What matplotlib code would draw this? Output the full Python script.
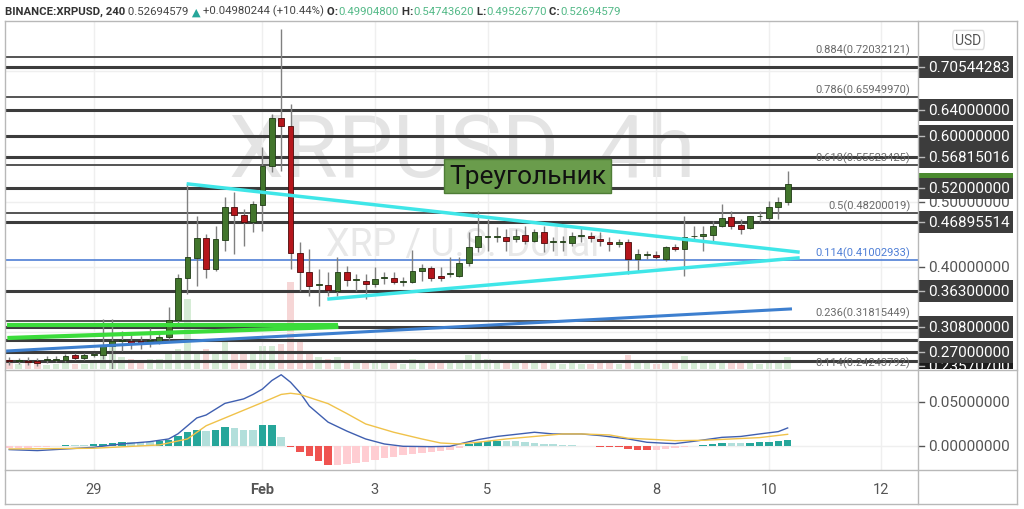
import matplotlib
matplotlib.use('Agg')
import matplotlib.pyplot as plt
import matplotlib.transforms as mtransforms
from matplotlib.patches import Rectangle, FancyBboxPatch
from matplotlib.lines import Line2D

plt.rcParams['font.family'] = ['Roboto', 'DejaVu Sans']

W, H = 1024, 510

# 4h bars, index counted from 1 Feb 00:00
bars = list(range(-27, 57))
opens = [0.2578, 0.2563, 0.2567, 0.2567, 0.2578, 0.2582, 0.2578, 0.2659, 0.2609, 0.2654,
         0.2659, 0.2797, 0.2873, 0.2873, 0.2864, 0.2864, 0.2873, 0.2934, 0.3189, 0.3827,
         0.4138, 0.4439, 0.3969, 0.4417, 0.4922, 0.4795, 0.4693, 0.4948, 0.5549, 0.6274,
         0.6151, 0.4209, 0.3928, 0.3725, 0.3725, 0.3638, 0.3919, 0.3801, 0.3791, 0.3740,
         0.3832, 0.3832, 0.3775, 0.3775, 0.3934, 0.3985, 0.3867, 0.3893, 0.3867, 0.4057,
         0.4301, 0.4454, 0.4454, 0.4454, 0.4428, 0.4489, 0.4402, 0.4540, 0.4378, 0.4378,
         0.4362, 0.4479, 0.4479, 0.4428, 0.4378, 0.4352, 0.4387, 0.4122, 0.4188, 0.4183,
         0.4122, 0.4301, 0.4275, 0.4469, 0.4469, 0.4489, 0.4631, 0.4760, 0.4642, 0.4592,
         0.4775, 0.4745, 0.4913, 0.499048]
highs = [0.2624, 0.2609, 0.2624, 0.2609, 0.2639, 0.2639, 0.2670, 0.2685, 0.2685, 0.2685,
         0.3197, 0.3197, 0.3027, 0.2976, 0.2945, 0.3067, 0.2991, 0.3388, 0.3893, 0.5269,
         0.4785, 0.4505, 0.4631, 0.5066, 0.5147, 0.4887, 0.5014, 0.5830, 0.6339, 0.7639,
         0.6492, 0.4382, 0.4275, 0.3969, 0.3924, 0.4148, 0.4020, 0.3893, 0.3893, 0.4000,
         0.3924, 0.3924, 0.3847, 0.4265, 0.4046, 0.4020, 0.4000, 0.4148, 0.4148, 0.4531,
         0.4861, 0.4734, 0.4607, 0.4581, 0.4581, 0.4631, 0.4581, 0.4631, 0.4454, 0.4479,
         0.4531, 0.4607, 0.4531, 0.4531, 0.4454, 0.4428, 0.4428, 0.4275, 0.4249, 0.4249,
         0.4326, 0.4352, 0.4775, 0.4631, 0.4631, 0.4708, 0.4963, 0.4861, 0.4734, 0.4785,
         0.4861, 0.5014, 0.5066, 0.5474362]
lows = [0.2502, 0.2517, 0.2502, 0.2486, 0.2532, 0.2547, 0.2547, 0.2578, 0.2578, 0.2624,
        0.2593, 0.2440, 0.2720, 0.2746, 0.2746, 0.2777, 0.2823, 0.2884, 0.3128, 0.3587,
        0.3714, 0.3827, 0.3943, 0.4249, 0.4199, 0.4326, 0.4531, 0.4555, 0.5448, 0.5472,
        0.3969, 0.3638, 0.3561, 0.3408, 0.3561, 0.3561, 0.3714, 0.3638, 0.3511, 0.3694,
        0.3740, 0.3740, 0.3714, 0.3755, 0.3791, 0.3791, 0.3791, 0.3847, 0.3847, 0.4020,
        0.4225, 0.4249, 0.4378, 0.4249, 0.4378, 0.4352, 0.4378, 0.4225, 0.4249, 0.4249,
        0.4326, 0.4378, 0.4378, 0.4326, 0.4249, 0.4301, 0.3893, 0.3943, 0.4122, 0.4122,
        0.4096, 0.4249, 0.3867, 0.4402, 0.4249, 0.4402, 0.4607, 0.4581, 0.4505, 0.4581,
        0.4683, 0.4708, 0.4734, 0.4952677]
closes = [0.2563, 0.2570, 0.2543, 0.2532, 0.2586, 0.2593, 0.2644, 0.2609, 0.2654, 0.2662,
          0.2797, 0.2873, 0.2876, 0.2838, 0.2838, 0.2869, 0.2934, 0.3189, 0.3827, 0.4148,
          0.4439, 0.3969, 0.4428, 0.4922, 0.4795, 0.4693, 0.4963, 0.5549, 0.6274, 0.6151,
          0.4209, 0.3924, 0.3714, 0.3732, 0.3648, 0.3919, 0.3806, 0.3809, 0.3740, 0.3817,
          0.3839, 0.3766, 0.3781, 0.3943, 0.3985, 0.3827, 0.3827, 0.3901, 0.4057, 0.4301,
          0.4469, 0.4459, 0.4459, 0.4402, 0.4479, 0.4402, 0.4540, 0.4362, 0.4382, 0.4382,
          0.4479, 0.4485, 0.4439, 0.4393, 0.4352, 0.4387, 0.4122, 0.4199, 0.4194, 0.4157,
          0.4301, 0.4275, 0.4454, 0.4474, 0.4505, 0.4631, 0.4745, 0.4631, 0.4581, 0.4775,
          0.4780, 0.4913, 0.4998, 0.52694579]
volumes = [6, 5, 6, 5, 4, 5, 6, 5, 5, 6,
           22, 25, 12, 10, 9, 10, 10, 15, 20, 70,
           18, 20, 15, 30, 18, 15, 18, 23, 23, 25,
           87, 30, 18, 12, 10, 12, 8, 7, 9, 8,
           6, 6, 5, 10, 6, 7, 6, 6, 8, 14,
           15, 10, 8, 7, 6, 7, 6, 9, 6, 5,
           6, 5, 5, 6, 6, 5, 14, 9, 6, 5,
           7, 6, 13, 7, 6, 8, 8, 7, 6, 7,
           5, 8, 8, 12]

# MACD panel
hist = [-0.0022, -0.0019, -0.0015, -0.0005, -0.0003, 0.0005, 0.0015, 0.0015, 0.0015, 0.0022,
        0.0030, 0.0037, 0.0045, 0.0045, 0.0045, 0.0045, 0.0060, 0.0070, 0.0110, 0.0157,
        0.0187, 0.0175, 0.0187, 0.0213, 0.0205, 0.0183, 0.0183, 0.0239, 0.0242, 0.0100,
        -0.0011, -0.0067, -0.0104, -0.0160, -0.0209, -0.0205, -0.0198, -0.0187, -0.0172, -0.0150,
        -0.0134, -0.0116, -0.0101, -0.0086, -0.0075, -0.0063, -0.0049, -0.0037, -0.0019, 0.0022,
        0.0045, 0.0056, 0.0063, 0.0060, 0.0056, 0.0048, 0.0041, 0.0030, 0.0022, 0.0015,
        0.0015, 0.0007, 0.0004, -0.0004, -0.0007, -0.0011, -0.0030, -0.0037, -0.0045, -0.0045,
        -0.0030, -0.0022, -0.0004, 0.0007, 0.0015, 0.0022, 0.0037, 0.0037, 0.0034, 0.0041,
        0.0045, 0.0052, 0.0060, 0.0075]
macd_x = [-27, -24, -21, -18, -15, -12, -10, -9, -7, -6, -4, -2, -1, 0, 1, 2, 3, 4, 5, 7,
          9, 11, 13, 15, 18, 20, 21, 23, 25, 28, 29, 31, 34, 36, 39, 41, 43, 44, 46, 49,
          51, 53, 55, 56]
macd_v = [-0.0037, -0.0048, -0.0030, -0.0011, 0.0026, 0.0052, 0.0082, 0.0140, 0.0317, 0.0350,
          0.0480, 0.0530, 0.0580, 0.0640, 0.0735, 0.0800, 0.0716, 0.0600, 0.0450, 0.0270,
          0.0170, 0.0082, 0.0026, 0.0000, -0.0004, 0.0000, 0.0026, 0.0075, 0.0110, 0.0145,
          0.0157, 0.0138, 0.0138, 0.0120, 0.0082, 0.0045, 0.0034, 0.0030, 0.0056, 0.0100,
          0.0110, 0.0138, 0.0164, 0.0205]
sig_x = [-27, -18, -11, -8, -6, -3, 0, 2, 3, 4, 7, 9, 11, 14, 17, 19, 21, 23, 26, 29,
         32, 34, 37, 39, 42, 44, 47, 50, 53, 56]
sig_v = [-0.0030, -0.0022, 0.0015, 0.0082, 0.0230, 0.0360, 0.0490, 0.0580, 0.0593, 0.0580,
         0.0477, 0.0366, 0.0250, 0.0157, 0.0082, 0.0037, 0.0026, 0.0045, 0.0082, 0.0110,
         0.0138, 0.0138, 0.0127, 0.0090, 0.0075, 0.0063, 0.0067, 0.0082, 0.0097, 0.0134]

day_ticks = [-18, 0, 12, 24, 42, 54, 66]
day_labels = ['29', 'Feb', '3', '5', '8', '10', '12']

# drawn horizontal levels
levels = [0.70544283, 0.64, 0.60, 0.56815016, 0.52, 0.46895514, 0.363, 0.308, 0.288, 0.27, 0.2567]
level_tags = [0.70544283, 0.64, 0.60, 0.56815016, 0.52, 0.46895514, 0.363, 0.308, 0.27]
fib_names = ['0.884', '0.786', '0.618', '0.5', '0.236', '0.114']
fib_prices = [0.72032121, 0.65949970, 0.55523425, 0.48200019, 0.31815449, 0.24243792]
fib_blue_name, fib_blue_price = '0.114', 0.41002933

tri_up_x, tri_up_y = [-7.9, 57.1], [0.5269, 0.4229]
tri_lo_x, tri_lo_y = [7.1, 57.1], [0.3511, 0.4138]
trend_x, trend_y = [-27.2, 56.3], [0.2716, 0.3358]
green1_x, green1_y = [-27.2, 8.1], [0.3106, 0.3106]
green2_x, green2_y = [-27.2, 8.1], [0.2914, 0.3083]

last, change, change_pct = 0.52694579, 0.04980244, 10.44


def rect(x0, y0, x1, y1):
    return [x0 / W, 1 - y1 / H, (x1 - x0) / W, (y1 - y0) / H]


fig = plt.figure(figsize=(W / 100, H / 100), dpi=100)
ax = fig.add_axes(rect(5, 22, 918, 370))
axm = fig.add_axes(rect(5, 371, 918, 471), sharex=ax)
axr = fig.add_axes(rect(918, 22, 1017, 370))
axrm = fig.add_axes(rect(918, 371, 1017, 471))

ylo, yhi = 0.2440, 0.7761
ax.set_xlim(-27.45, 69.9)
ax.set_ylim(ylo, yhi)
axm.set_ylim(-0.0265, 0.0853)
axr.set_ylim(ylo, yhi)
axrm.set_ylim(-0.0265, 0.0853)
for a in (axr, axrm):
    a.set_xlim(0, 1)

for a in (ax, axm, axr, axrm):
    for s in a.spines.values():
        s.set_visible(False)
    a.tick_params(length=0, labelleft=False, labelbottom=False)
axr.set_xticks([]); axr.set_yticks([])
axrm.set_xticks([]); axrm.set_yticks([])

ax.set_xticks(day_ticks)
ax.set_yticks([0.3, 0.4, 0.5, 0.6, 0.7])
ax.grid(True, color='#efefef', lw=1, zorder=0)
axm.set_yticks([0.0, 0.05])
axm.grid(True, color='#efefef', lw=1, zorder=0)
axm.set_xticks(day_ticks)
axm.set_xticklabels(day_labels)
axm.tick_params(axis='x', labelbottom=True, pad=9, labelsize=10.5, labelcolor='#555555')
axm.get_xticklabels()[1].set_fontweight('bold')

# volume behind everything
axv = ax.twinx()
axv.set_ylim(0, 348)
axv.axis('off')
vcol = ['#d6ecd6' if c >= o else '#f6d6d6' for o, c in zip(opens, closes)]
axv.bar(bars, volumes, width=0.7, color=vcol, zorder=0)
ax.set_zorder(axv.get_zorder() + 1)
ax.patch.set_visible(False)

# watermark
ax.text(0.5005, 0.626, 'XRPUSD, 4h', transform=ax.transAxes, fontsize=63, color='#e4e4e4',
        ha='center', va='center', zorder=0)
ax.text(0.503, 0.359, 'XRP / U.S. Dollar', transform=ax.transAxes, fontsize=27, color='#e8e8e8',
        ha='center', va='center', zorder=0)

bt = mtransforms.blended_transform_factory(ax.transAxes, ax.transData)
# levels and fibs
for p in levels:
    ax.axhline(p, color='#3c3c3c', lw=2.2, zorder=2)
for n, p in zip(fib_names, fib_prices):
    ax.axhline(p, color='#474747', lw=1.3, zorder=2)
    ax.annotate(f'{n}({p:.8f})', xy=(0.9915, p), xycoords=bt, xytext=(0, 1.5),
                textcoords='offset points', ha='right', va='bottom', fontsize=8, color='#6a6a6a', zorder=2)
ax.axhline(fib_blue_price, color='#4f7fd6', lw=1.2, zorder=2)
ax.annotate(f'{fib_blue_name}({fib_blue_price:.8f})', xy=(0.9915, fib_blue_price), xycoords=bt,
            xytext=(0, 1.5), textcoords='offset points', ha='right', va='bottom', fontsize=8,
            color='#4f7fd6', zorder=2)

# candles
up = [c >= o for o, c in zip(opens, closes)]
ax.vlines(bars, lows, highs, color='#808080', lw=1, zorder=3)
body_b = [min(o, c) for o, c in zip(opens, closes)]
body_h = [max(abs(c - o), 0.0012) for o, c in zip(opens, closes)]
ax.bar(bars, body_h, bottom=body_b, width=0.62,
       color=['#42752c' if u else '#b5161c' for u in up],
       edgecolor=['#1e3a14' if u else '#4b0a0a' for u in up], lw=0.6, zorder=4)

# drawings
ax.plot(green1_x, green1_y, color='#3bdc3b', lw=3, zorder=5, solid_capstyle='butt')
ax.plot(green2_x, green2_y, color='#3bdc3b', lw=3, zorder=5, solid_capstyle='butt')
ax.plot(trend_x, trend_y, color='#3d7fcf', lw=2.2, zorder=5)
ax.plot(tri_up_x, tri_up_y, color='#3fe6e8', lw=2.5, zorder=5)
ax.plot(tri_lo_x, tri_lo_y, color='#3fe6e8', lw=2.5, zorder=5)
ax.text(0.5725, 0.555, 'Треугольник', transform=ax.transAxes, fontsize=19, color='#111111',
        ha='center', va='center', zorder=6,
        bbox=dict(boxstyle='square,pad=0.2', facecolor='#6a9c4c', edgecolor='#4e7d36', lw=1))

# MACD
hcol = []
for i, v in enumerate(hist):
    prev = hist[i - 1] if i else v
    if v >= 0:
        hcol.append('#26a69a' if v > prev else '#b2dfdb')
    else:
        hcol.append('#ef5350' if v < prev else '#ffcdd2')
axm.bar(bars, hist, width=0.8, color=hcol, zorder=2)
axm.plot(macd_x, macd_v, color='#3f5fb0', lw=1, zorder=3)
axm.plot(sig_x, sig_v, color='#f0c24a', lw=1, zorder=3)

# right price scale
rt = mtransforms.blended_transform_factory(axr.transAxes, axr.transData)
for p in [0.4, 0.5]:
    axr.text(0.10, p, f'{p:.8f}', transform=rt, color='#555555', fontsize=11, va='center', zorder=1)
    axr.plot([0, 0.06], [p, p], transform=rt, color='#555555', lw=1, zorder=1)
hh = 0.0168
zc = [3]


def tag(p, txt, face, yc=None):
    yc = p if yc is None else yc
    z = zc[0]
    axr.add_patch(Rectangle((0.0, yc - hh), 0.96, 2 * hh, transform=rt, facecolor=face,
                            edgecolor='none', zorder=z))
    if txt:
        axr.text(0.10, yc, txt, transform=rt, color='white', fontsize=11, va='center', zorder=z + 0.5)
        axr.plot([0, 0.06], [yc, yc], transform=rt, color='#bbbbbb', lw=1, zorder=z + 0.5)
    zc[0] += 1


tag(0.23570700, '0.23570700', '#1c1c1c', yc=0.2486)
tag(last, '', '#4b8a30')
for p in level_tags:
    tag(p, f'{p:.8f}', '#3c3c3c')

axr.add_patch(FancyBboxPatch((0.35, 0.918), 0.32, 0.055, boxstyle='round,pad=0.0,rounding_size=0.02',
                             transform=axr.transAxes, facecolor='white', edgecolor='#dddddd', lw=1, zorder=50))
axr.text(0.51, 0.945, 'USD', transform=axr.transAxes, ha='center', va='center', fontsize=10,
         color='#555555', zorder=51)

rtm = mtransforms.blended_transform_factory(axrm.transAxes, axrm.transData)
for p in [0.0, 0.05]:
    axrm.text(0.10, p, f'{p:.8f}', transform=rtm, color='#555555', fontsize=11, va='center')
    axrm.plot([0, 0.06], [p, p], transform=rtm, color='#555555', lw=1)


# frame
def fline(x0, y0, x1, y1, c='#b8b8b8', lw=1):
    fig.add_artist(Line2D([x0 / W, x1 / W], [1 - y0 / H, 1 - y1 / H], color=c, lw=lw))


fline(5, 22, 1017, 22)
fline(5, 505, 1017, 505)
fline(5, 22, 5, 505)
fline(1017, 22, 1017, 505)
fline(918, 22, 918, 505)
fline(5, 371, 1017, 371)
fline(5, 471, 1017, 471)

# header
parts = [('BINANCE:XRPUSD, 240', '#333333', 'bold'),
         (f' {last:.8f}', '#444444', 'normal'),
         (' ▲', '#26a69a', 'normal'),
         (f' +{change:.8f} (+{change_pct:.2f}%)', '#444444', 'normal'),
         (' O:', '#333333', 'bold'), (f'{opens[-1]:.8f}', '#53b987', 'normal'),
         (' H:', '#333333', 'bold'), (f'{highs[-1]:.8f}', '#53b987', 'normal'),
         (' L:', '#333333', 'bold'), (f'{lows[-1]:.8f}', '#53b987', 'normal'),
         (' C:', '#333333', 'bold'), (f'{closes[-1]:.8f}', '#53b987', 'normal')]
t = fig.text(5 / W, 1 - 12 / H, parts[0][0], color=parts[0][1], fontweight=parts[0][2],
             fontsize=8.2, va='center', ha='left')
for s, c, wgt in parts[1:]:
    t = ax.annotate(s, xy=(1, 0), xycoords=t, va='bottom', ha='left', color=c, fontweight=wgt,
                    fontsize=8.2, annotation_clip=False)

fig.savefig('out.png', dpi=100, facecolor='white')
